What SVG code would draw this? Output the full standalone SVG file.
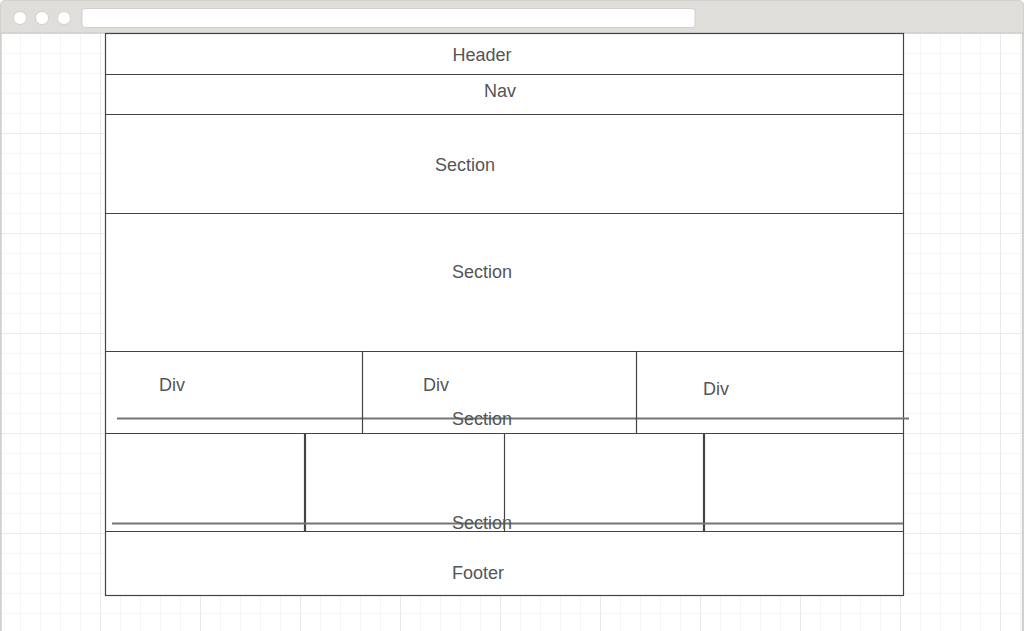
<svg xmlns="http://www.w3.org/2000/svg" width="1024" height="631" viewBox="0 0 1024 631">
  <defs>
    <pattern id="gridMinor" x="0" y="33" width="20" height="20" patternUnits="userSpaceOnUse">
      <path d="M 20 0 L 0 0 0 20" fill="none" stroke="#ececec" stroke-width="1"/>
    </pattern>
    <pattern id="gridMajor" x="0" y="33" width="100" height="100" patternUnits="userSpaceOnUse">
      <path d="M 100 0 L 0 0 0 100" fill="none" stroke="#e2e2e2" stroke-width="1.2"/>
    </pattern>
    <style>
      .frame { fill: #ffffff; stroke: #444444; stroke-width: 1.2; }
      .rule { stroke: #444444; stroke-width: 1.2; fill: none; }
      .rule-bold { stroke: #444444; stroke-width: 2.2; fill: none; }
      .bar { stroke: #75756f; stroke-width: 2; fill: none; }
      .label { font-family: "Liberation Sans", Arial, sans-serif; font-size: 18px; fill: #555555; text-anchor: middle; }
    </style>
  </defs>

  <!-- browser window -->
  <g id="browser">
    <rect x="0.5" y="0.5" width="1023" height="640" rx="5" fill="#ffffff" stroke="#d2d1cc"/>
    <rect x="1" y="33" width="1021" height="598" fill="url(#gridMinor)"/>
    <rect x="1" y="33" width="1021" height="598" fill="url(#gridMajor)"/>
    <path d="M 0.5 33 V 5.5 Q 0.5 0.5 5.5 0.5 H 1018.5 Q 1023.5 0.5 1023.5 5.5 V 33 Z" fill="#dfdeda" stroke="#d2d1cc"/>
    <line x1="0" y1="33" x2="1024" y2="33" stroke="#cfcec9" stroke-width="1"/>
    <line x1="1" y1="33" x2="1" y2="631" stroke="#d2d1cc" stroke-width="1.5"/>
    <line x1="1022.5" y1="33" x2="1022.5" y2="631" stroke="#d2d1cc" stroke-width="1.5"/>
    <circle cx="20" cy="18" r="6.5" fill="#ffffff" stroke="#d2d1cc"/>
    <circle cx="42" cy="18" r="6.5" fill="#ffffff" stroke="#d2d1cc"/>
    <circle cx="64" cy="18" r="6.5" fill="#ffffff" stroke="#d2d1cc"/>
    <rect x="82" y="8.5" width="613" height="19" rx="3" fill="#ffffff" stroke="#d2d1cc"/>
  </g>

  <!-- page outline -->
  <g id="page">
    <rect class="frame" x="105.5" y="33.5" width="798" height="562"/>
  </g>

  <g id="header">
    <text class="label" x="482" y="61">Header</text>
  </g>
  <g id="nav">
    <line class="rule" x1="105.5" y1="74.5" x2="903.5" y2="74.5"/>
    <text class="label" x="500" y="97">Nav</text>
  </g>
  <g id="section-1">
    <line class="rule" x1="105.5" y1="114.5" x2="903.5" y2="114.5"/>
    <text class="label" x="465" y="171">Section</text>
  </g>
  <g id="section-2">
    <line class="rule" x1="105.5" y1="213.5" x2="903.5" y2="213.5"/>
    <text class="label" x="482" y="278">Section</text>
  </g>

  <!-- three-column row -->
  <g id="section-3">
    <line class="rule" x1="105.5" y1="351.5" x2="903.5" y2="351.5"/>
    <line class="rule" x1="105.5" y1="433.5" x2="903.5" y2="433.5"/>
    <line class="bar" x1="117" y1="418.5" x2="909" y2="418.5"/>
    <text class="label" x="482" y="425">Section</text>
  </g>
  <g id="div-1">
    <text class="label" x="172" y="391">Div</text>
  </g>
  <g id="div-2">
    <line class="rule" x1="362.5" y1="351.5" x2="362.5" y2="433.5"/>
    <text class="label" x="436" y="391">Div</text>
  </g>
  <g id="div-3">
    <line class="rule" x1="636.5" y1="351.5" x2="636.5" y2="433.5"/>
    <text class="label" x="716" y="395">Div</text>
  </g>

  <!-- four-column row -->
  <g id="section-4">
    <line class="rule-bold" x1="305" y1="433.5" x2="305" y2="531.5"/>
    <line class="rule" x1="504.5" y1="433.5" x2="504.5" y2="531.5"/>
    <line class="rule-bold" x1="704" y1="433.5" x2="704" y2="531.5"/>
    <line class="bar" x1="112" y1="523.5" x2="903" y2="523.5"/>
    <text class="label" x="482" y="529">Section</text>
  </g>

  <g id="footer">
    <line class="rule" x1="105.5" y1="531.5" x2="903.5" y2="531.5"/>
    <text class="label" x="478" y="579">Footer</text>
  </g>
</svg>
